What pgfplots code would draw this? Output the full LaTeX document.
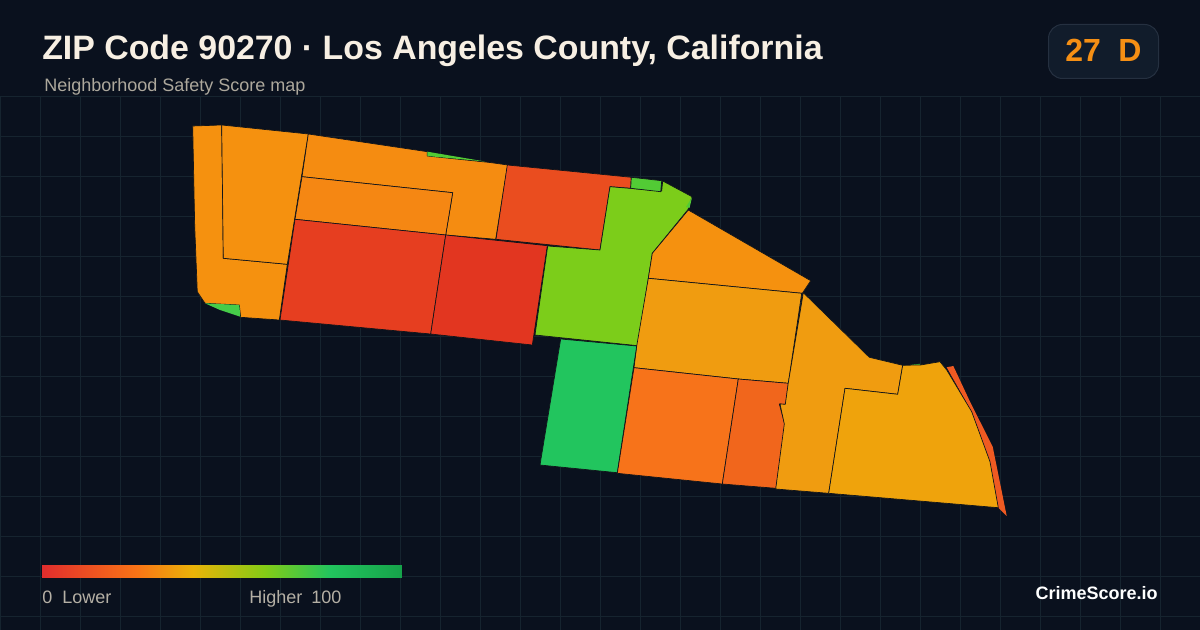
\documentclass[border=0pt]{standalone}
\usepackage{pgfplots}
\pgfplotsset{compat=1.18}
\usepackage{fontspec}
\setmainfont{Liberation Sans}
\definecolor{bg}{HTML}{0A111E}
\definecolor{gridc}{HTML}{16242F}
\definecolor{edge}{HTML}{10141A}
\definecolor{oA}{HTML}{F5910F}
\definecolor{oB}{HTML}{F58C11}
\definecolor{oC}{HTML}{F58713}
\definecolor{rA}{HTML}{EA4D1F}
\definecolor{rB}{HTML}{E63E20}
\definecolor{rC}{HTML}{E23620}
\definecolor{lime}{HTML}{7CCD1A}
\definecolor{gA}{HTML}{52CB35}
\definecolor{gB}{HTML}{46CC49}
\definecolor{gC}{HTML}{22C55E}
\definecolor{oD}{HTML}{F7731A}
\definecolor{oE}{HTML}{F1661C}
\definecolor{yA}{HTML}{F09C10}
\definecolor{yB}{HTML}{EFA30C}
\definecolor{sl}{HTML}{EF5A22}
\definecolor{titlec}{HTML}{F7EFE3}
\definecolor{subc}{HTML}{ADA89C}
\definecolor{legc}{HTML}{B5B0A5}
\definecolor{badgef}{HTML}{111C2B}
\definecolor{badged}{HTML}{253040}
\definecolor{badget}{HTML}{F58F14}
\pgfplotsset{zone/.style={fill=#1,draw=edge,line width=0.5pt,line join=round}}
\begin{document}
\begin{tikzpicture}
\begin{axis}[
  scale only axis, width=900pt, height=472.5pt,
  xmin=0,xmax=1200,ymin=0,ymax=630,y dir=reverse,
  hide axis, unbounded coords=jump,
  colormap={scorebar}{[1pt] rgb255(0pt)=(224,45,45); rgb255(26pt)=(249,115,22); rgb255(42pt)=(234,179,8); rgb255(62pt)=(132,204,22); rgb255(80pt)=(34,197,94); rgb255(100pt)=(22,163,74)},
  point meta min=42, point meta max=402,
]
% background
\addplot[fill=bg,draw=none] coordinates {(0,0)(1200,0)(1200,630)(0,630)} -- cycle;
% grid
\addplot[gridc,line width=0.75pt] coordinates {
(0.5,96)(0.5,630)(nan,nan)(40.5,96)(40.5,630)(nan,nan)(80.5,96)(80.5,630)(nan,nan)(120.5,96)(120.5,630)(nan,nan)
(160.5,96)(160.5,630)(nan,nan)(200.5,96)(200.5,630)(nan,nan)(240.5,96)(240.5,630)(nan,nan)(280.5,96)(280.5,630)(nan,nan)
(320.5,96)(320.5,630)(nan,nan)(360.5,96)(360.5,630)(nan,nan)(400.5,96)(400.5,630)(nan,nan)(440.5,96)(440.5,630)(nan,nan)
(480.5,96)(480.5,630)(nan,nan)(520.5,96)(520.5,630)(nan,nan)(560.5,96)(560.5,630)(nan,nan)(600.5,96)(600.5,630)(nan,nan)
(640.5,96)(640.5,630)(nan,nan)(680.5,96)(680.5,630)(nan,nan)(720.5,96)(720.5,630)(nan,nan)(760.5,96)(760.5,630)(nan,nan)
(800.5,96)(800.5,630)(nan,nan)(840.5,96)(840.5,630)(nan,nan)(880.5,96)(880.5,630)(nan,nan)(920.5,96)(920.5,630)(nan,nan)
(960.5,96)(960.5,630)(nan,nan)(1000.5,96)(1000.5,630)(nan,nan)(1040.5,96)(1040.5,630)(nan,nan)(1080.5,96)(1080.5,630)(nan,nan)
(1120.5,96)(1120.5,630)(nan,nan)(1160.5,96)(1160.5,630)(nan,nan)
(0,96.5)(1200,96.5)(nan,nan)(0,136.5)(1200,136.5)(nan,nan)(0,176.5)(1200,176.5)(nan,nan)(0,216.5)(1200,216.5)(nan,nan)
(0,256.5)(1200,256.5)(nan,nan)(0,296.5)(1200,296.5)(nan,nan)(0,336.5)(1200,336.5)(nan,nan)(0,376.5)(1200,376.5)(nan,nan)
(0,416.5)(1200,416.5)(nan,nan)(0,456.5)(1200,456.5)(nan,nan)(0,496.5)(1200,496.5)(nan,nan)(0,536.5)(1200,536.5)(nan,nan)
(0,576.5)(1200,576.5)(nan,nan)(0,616.5)(1200,616.5)
};
% zones
\addplot[zone=oA] coordinates {(192.7,126)(221.7,125)(223.3,258.3)(287.3,264.3)(279.3,320)(240.7,317.3)(239.3,305)(205,303.3)(197.3,291.7)(194.7,226)} -- cycle;
\addplot[zone=oA] coordinates {(221.7,125)(308.3,134)(287.3,264.3)(223.3,258.3)} -- cycle;
\addplot[zone=gB,draw=none] coordinates {(205,303.3)(239.3,305)(240.3,316.7)(220,310)} -- cycle;
\addplot[zone=oB] coordinates {(308.3,134)(427.3,151.7)(427.3,156)(490,162.5)(507.7,165)(495.7,239.3)(445.7,235)(452.7,192.7)(302,176.7)} -- cycle;
\addplot[zone=gA,draw=none] coordinates {(427.3,151.7)(485,161.5)(427.3,156)} -- cycle;
\addplot[zone=oC] coordinates {(302,176.7)(452.7,192.7)(445.7,235)(295,219.3)} -- cycle;
\addplot[zone=rB] coordinates {(295,219.3)(445.7,235)(430.7,334)(280,320)} -- cycle;
\addplot[zone=rC] coordinates {(445.7,235)(547.3,245.7)(532.3,345)(430.7,334)} -- cycle;
\addplot[zone=rA] coordinates {(507.3,165)(631.3,177.3)(630.7,188.3)(610,186.7)(600,250)(496,239.3)} -- cycle;
\addplot[zone=lime] coordinates {(610,186.7)(661.7,191)(662.7,181)(692,196.7)(688,209.5)(652.3,253.3)(637.7,345.7)(535,335)(547.7,246)(600,250)} -- cycle;
\addplot[zone=gA] coordinates {(631.3,177.3)(661.7,180.7)(660.7,191.7)(630.7,188.3)} -- cycle;
\addplot[zone=gA,draw=none] coordinates {(686,207)(692,197.5)(689.5,208)} -- cycle;
\addplot[zone=oA] coordinates {(688.3,210)(810.7,280.7)(802.3,293.3)(648.3,278.3)(652.3,253.3)} -- cycle;
\addplot[zone=yA] coordinates {(648.3,278.3)(801.7,293.3)(788.3,383.3)(738.3,379)(634,367.7)(636.7,346)} -- cycle;
\addplot[zone=gC] coordinates {(560.7,339)(636.7,346)(617.3,472.7)(540,465)} -- cycle;
\addplot[zone=oD] coordinates {(634,367.7)(738.3,379)(722.3,484)(617.3,473.3)} -- cycle;
\addplot[zone=oE] coordinates {(738.3,379)(788.3,383.3)(785.7,404.3)(779.3,404)(785,425)(776,488.3)(722.3,484)} -- cycle;
\addplot[zone=yA] coordinates {(803.3,292.7)(869.3,357.3)(902.7,365.3)(897.7,394.3)(845,388.3)(828.7,493.3)(775.7,489)(784.3,424)(780,404)(785.3,404.3)(788.3,382.7)} -- cycle;
\addplot[zone=sl,draw=none] coordinates {(946.7,367.3)(953.3,366)(970,401.7)(992.7,446.7)(1006.7,516)(998.3,507.7)(990,461.7)(971.7,411.7)} -- cycle;
\addplot[zone=gA,draw=none] coordinates {(906,365.5)(920,363.8)(920,365.5)} -- cycle;
\addplot[zone=yB] coordinates {(902.7,365.3)(920.7,365)(940,361.7)(946.7,370)(971.7,411.7)(990,461.7)(998.3,507.7)(828.7,493.3)(845,388.3)(897.7,394.3)} -- cycle;
% colour bar
\addplot[surf,shader=interp,mesh/rows=2,point meta=x] coordinates {
(42,565)(135.6,565)(193.2,565)(265.2,565)(330,565)(402,565)
(42,578)(135.6,578)(193.2,578)(265.2,578)(330,578)(402,578)};
% badge
\draw[fill=badgef,draw=badged,line width=0.75pt,rounded corners=10.5pt] (axis cs:1048.5,24.5) rectangle (axis cs:1158.5,78.5);
% texts
\node[anchor=base west,inner sep=0pt,text=titlec,font=\fontsize{25.4pt}{30pt}\selectfont\bfseries] at (axis cs:42,59.5) {ZIP Code 90270 · Los Angeles County, California};
\node[anchor=base west,inner sep=0pt,text=subc,font=\fontsize{13.5pt}{15pt}\selectfont] at (axis cs:44,91.5) {Neighborhood Safety Score map};
\node[anchor=base west,inner sep=0pt,text=badget,font=\fontsize{24pt}{26pt}\selectfont\bfseries] at (axis cs:1065,62) {27};
\node[anchor=base west,inner sep=0pt,text=badget,font=\fontsize{24pt}{26pt}\selectfont\bfseries] at (axis cs:1118,62) {D};
\node[anchor=base west,inner sep=0pt,text=legc,font=\fontsize{13.5pt}{14pt}\selectfont] at (axis cs:42,603.5) {0};
\node[anchor=base west,inner sep=0pt,text=legc,font=\fontsize{13.5pt}{14pt}\selectfont] at (axis cs:62,603.5) {Lower};
\node[anchor=base west,inner sep=0pt,text=legc,font=\fontsize{13.5pt}{14pt}\selectfont] at (axis cs:249,603.5) {Higher};
\node[anchor=base west,inner sep=0pt,text=legc,font=\fontsize{13.5pt}{14pt}\selectfont] at (axis cs:311,603.5) {100};
\node[anchor=base east,inner sep=0pt,text=white,font=\fontsize{13.5pt}{15pt}\selectfont\bfseries] at (axis cs:1158,599.5) {CrimeScore.io};
\end{axis}
\end{tikzpicture}
\end{document}
